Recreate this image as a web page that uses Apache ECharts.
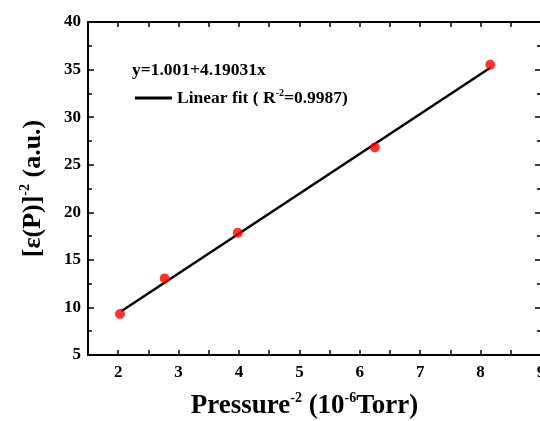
<!DOCTYPE html>
<html>
<head>
<meta charset="utf-8">
<script src="https://cdn.jsdelivr.net/npm/echarts@6/dist/echarts.min.js"></script>
<style>
    html, body { margin: 0; padding: 0; background: #fff; }
    #main { width: 540px; height: 421px; }
</style>
</head>
<body>
<div id="main"></div>
<script>
    // measured points
    var pressureX = [2.03, 2.77, 3.98, 6.25, 8.16];
    var epsilonY = [9.3, 13.05, 17.85, 26.8, 35.5];
    // ends of the fitted line
    var fitX = [2.05, 8.16];
    var fitY = [9.6, 35.2];
    var equationText = 'y=1.001+4.19031x';

    var serif = '"Liberation Serif", "DejaVu Serif", serif';

    var rich = {
        a: {fontFamily: serif, fontWeight: 'bold', fontSize: 27, lineHeight: 30, color: '#000'},
        s: {fontFamily: serif, fontWeight: 'bold', fontSize: 14, lineHeight: 14, verticalAlign: 'top', color: '#000'}
    };
    var legendRich = {
        a: {fontFamily: serif, fontWeight: 'bold', fontSize: 17.5, lineHeight: 20, color: '#000'},
        s: {fontFamily: serif, fontWeight: 'bold', fontSize: 10, lineHeight: 10, verticalAlign: 'top', color: '#000'}
    };

    function pairs(xs, ys) {
        return xs.map(function (x, i) { return [x, ys[i]]; });
    }

    var axisLine = {show: true, onZero: false, lineStyle: {color: '#000', width: 2}};
    var tickStyle = {color: '#000', width: 1.5};

    var myChart = echarts.init(document.getElementById('main'));
    var option = {
        animation: false,
        backgroundColor: '#fff',
        grid: {left: 88, top: 22, width: 453, height: 333, outerBoundsMode: 'none', containLabel: false},
        legend: {
            left: 130,
            top: 83,
            itemWidth: 37,
            itemHeight: 3,
            itemGap: 5,
            icon: 'rect',
            data: ['fit'],
            formatter: function () {
                return '{a|Linear fit ( R}{s|-2}{a|=0.9987)}';
            },
            textStyle: {rich: legendRich}
        },
        graphic: [{
            type: 'text',
            left: 132,
            top: 61,
            style: {
                text: equationText,
                font: 'bold 17.5px ' + serif,
                fill: '#000'
            }
        }],
        xAxis: [{
            type: 'value',
            min: 1.5,
            max: 9,
            interval: 0.5,
            position: 'bottom',
            axisLine: axisLine,
            axisTick: {show: true, inside: true, length: 5, lineStyle: tickStyle},
            splitLine: {show: false},
            axisLabel: {
                margin: 9,
                fontFamily: serif,
                fontWeight: 'bold',
                fontSize: 17,
                color: '#000',
                formatter: function (v) { return v % 1 === 0 ? String(v) : ''; }
            },
            name: '{a|Pressure}{s|-2}{a| (10}{s|-6}{a|Torr)}',
            nameLocation: 'middle',
            nameGap: 36,
            nameTextStyle: {rich: rich, padding: [0, 20, 0, 0]}
        }, {
            type: 'value',
            min: 1.5,
            max: 9,
            interval: 0.5,
            position: 'top',
            axisLine: axisLine,
            axisTick: {show: true, inside: true, length: 5, lineStyle: tickStyle},
            splitLine: {show: false},
            axisLabel: {show: false}
        }],
        yAxis: [{
            type: 'value',
            min: 5,
            max: 40,
            interval: 5,
            position: 'left',
            axisLine: axisLine,
            axisTick: {show: true, inside: true, length: 6, lineStyle: tickStyle},
            minorTick: {show: true, splitNumber: 2, length: 4, lineStyle: tickStyle},
            splitLine: {show: false},
            axisLabel: {
                margin: 7,
                fontFamily: serif,
                fontWeight: 'bold',
                fontSize: 17,
                color: '#000'
            },
            name: '{a|[ε(P)]}{s|-2}{a| (a.u.)}',
            nameLocation: 'middle',
            nameGap: 40,
            nameRotate: 90,
            nameTextStyle: {rich: {
                a: {fontFamily: serif, fontWeight: 'bold', fontSize: 26, lineHeight: 30, color: '#000'},
                s: rich.s
            }}
        }, {
            type: 'value',
            min: 5,
            max: 40,
            interval: 5,
            position: 'right',
            axisLine: axisLine,
            axisTick: {show: true, inside: true, length: 6, lineStyle: tickStyle},
            minorTick: {show: true, splitNumber: 2, length: 4, lineStyle: tickStyle},
            splitLine: {show: false},
            axisLabel: {show: false}
        }],
        series: [{
            name: 'fit',
            type: 'line',
            xAxisIndex: 0,
            yAxisIndex: 0,
            data: pairs(fitX, fitY),
            symbol: 'none',
            itemStyle: {color: '#000'},
            lineStyle: {color: '#000', width: 2.5}
        }, {
            name: 'data',
            type: 'scatter',
            xAxisIndex: 0,
            yAxisIndex: 0,
            data: pairs(pressureX, epsilonY),
            symbol: 'circle',
            symbolSize: 10,
            itemStyle: {color: '#ff0000'},
            z: 3
        }]
    };
    myChart.setOption(option);
</script>
</body>
</html>
